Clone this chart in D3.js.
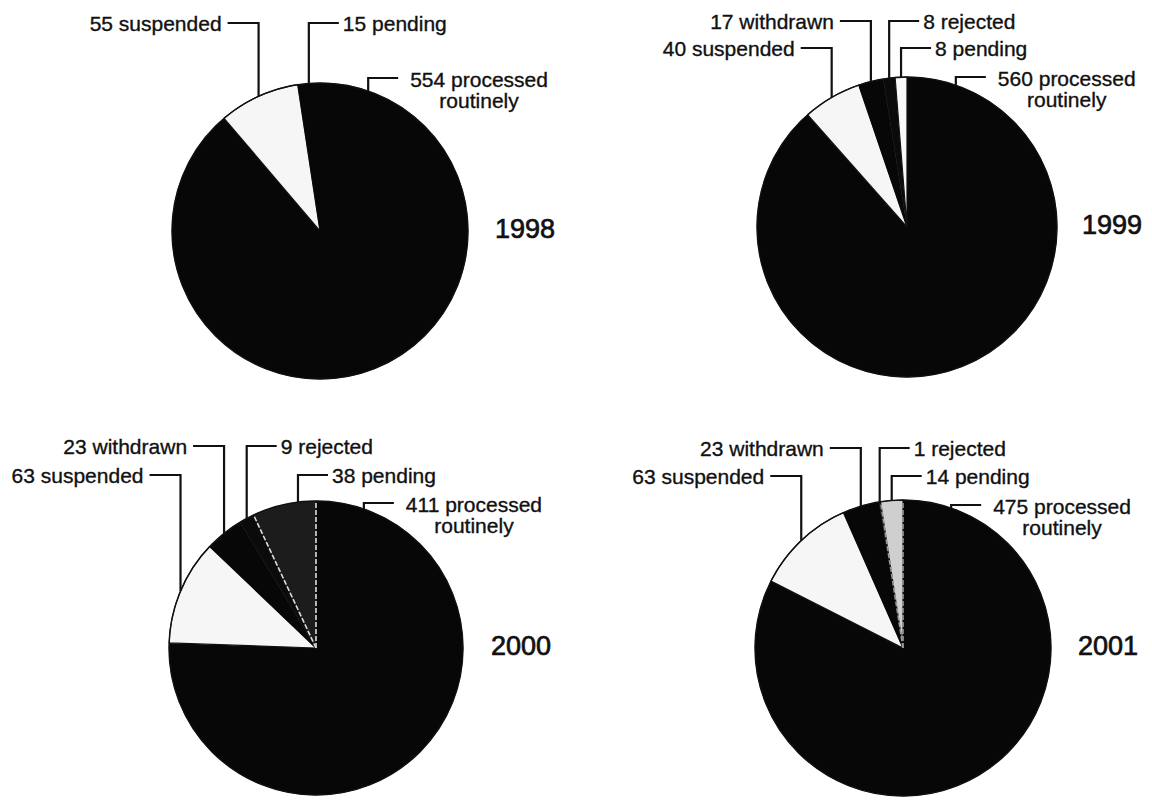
<!DOCTYPE html>
<html>
<head>
<meta charset="utf-8">
<script src="https://cdn.jsdelivr.net/npm/d3@7"></script>
<style>
  html, body { margin: 0; padding: 0; background: #ffffff; }
  svg { display: block; }
  text { font-family: "Liberation Sans", Arial, Helvetica, sans-serif; fill: #111; }
</style>
</head>
<body>
<svg id="chart" width="1152" height="802"></svg>
<script>
// ---- data ----
const years = ["1998", "1999", "2000", "2001"];
const categories = ["processed routinely", "suspended", "withdrawn", "rejected", "pending"];
const processed = [554, 560, 411, 475];
const suspended = [55, 40, 63, 63];
const withdrawn = [0, 17, 23, 23];
const rejected = [0, 8, 9, 1];
const pending = [15, 8, 38, 14];

// ---- layout / style ----
const W = 1152, H = 802;
const pieLayout = [
  { cx: 320, cy: 231, r: 148, rowA: 23,  rowB: 23,  procY: 78  },
  { cx: 907, cy: 227, r: 150, rowA: 21,  rowB: 48,  procY: 77  },
  { cx: 316, cy: 648, r: 147, rowA: 446, rowB: 475, procY: 503 },
  { cx: 903, cy: 648, r: 148, rowA: 448, rowB: 476, procY: 505 }
];
const side = { "suspended": "left", "withdrawn": "left", "rejected": "right", "pending": "right" };
const row = { "suspended": "rowB", "withdrawn": "rowA", "rejected": "rowA", "pending": "rowB" };
const baseFill = {
  "processed routinely": "#070707",
  "suspended": "#f6f6f6",
  "withdrawn": "#070707",
  "rejected": "#0b0b0b",
  "pending": "#070707"
};
const pendingFill = { "1998": "#070707", "1999": "#f8f8f8", "2000": "#1c1c1c", "2001": "#cfcfcf" };
const pendingEdge = { "2000": "#dcdcdc", "2001": "#9a9a9a" };
const anchorFrac = { "2000|pending": 0.72 };
const procAngle = 19 * Math.PI / 180;

const svg = d3.select("#chart");
svg.append("rect").attr("width", W).attr("height", H).attr("fill", "#ffffff");

const seriesByCat = {
  "processed routinely": processed,
  "suspended": suspended,
  "withdrawn": withdrawn,
  "rejected": rejected,
  "pending": pending
};

const pieGen = d3.pie().sort(null).value(d => d.value);

years.forEach((yr, i) => {
  const L = pieLayout[i];
  const data = categories.map(c => ({ cat: c, value: seriesByCat[c][i] }));
  const arcs = pieGen(data);
  const arc = d3.arc().innerRadius(0).outerRadius(L.r);
  const g = svg.append("g").attr("transform", `translate(${L.cx},${L.cy})`);

  const fillOf = d => d.data.cat === "pending" ? pendingFill[yr] : baseFill[d.data.cat];
  const isLight = d => d3.hsl(fillOf(d)).l > 0.6;

  g.selectAll("path.slice")
    .data(arcs.filter(d => d.value > 0))
    .join("path")
    .attr("class", "slice")
    .attr("d", arc)
    .attr("fill", fillOf)
    .attr("stroke", d => isLight(d) ? "#111" : fillOf(d))
    .attr("stroke-width", d => isLight(d) ? 1.2 : 0.5)
    .attr("stroke-linejoin", "round");

  // lighter radial edges on the pending slice where the scan shows them
  if (pendingEdge[yr]) {
    const p = arcs.find(d => d.data.cat === "pending");
    [p.startAngle, p.endAngle].forEach(a => {
      g.append("line")
        .attr("x1", 0).attr("y1", 0)
        .attr("x2", (L.r - 1) * Math.sin(a)).attr("y2", -(L.r - 1) * Math.cos(a))
        .attr("stroke", pendingEdge[yr]).attr("stroke-width", 1.6)
        .attr("stroke-dasharray", "5,2");
    });
  }

  // outline
  g.append("circle").attr("r", L.r).attr("fill", "none")
    .attr("stroke", "#111").attr("stroke-width", 1.4);

  // ---- leaders & labels ----
  const lg = svg.append("g");
  const leader = pts => lg.append("path")
    .attr("d", d3.line()(pts))
    .attr("fill", "none").attr("stroke", "#111").attr("stroke-width", 2.2)
    .attr("stroke-linejoin", "miter");

  arcs.forEach(d => {
    const c = d.data.cat;
    if (c === "processed routinely" || d.value <= 0) return;
    const f = anchorFrac[yr + "|" + c] ?? 0.5;
    const a = d.startAngle + (d.endAngle - d.startAngle) * f;
    const x = L.cx + L.r * Math.sin(a);
    const yEdge = L.cy - L.r * Math.cos(a);
    const y = L[row[c]];
    if (side[c] === "left") {
      leader([[x, yEdge], [x, y], [x - 31, y]]);
      lg.append("text").attr("x", x - 37).attr("y", y + 7.5)
        .attr("text-anchor", "end").attr("font-size", 21)
        .attr("stroke", "#111").attr("stroke-width", 0.35)
        .text(`${d.value} ${c}`);
    } else {
      leader([[x, yEdge], [x, y], [x + 30, y]]);
      lg.append("text").attr("x", x + 34).attr("y", y + 7.5)
        .attr("text-anchor", "start").attr("font-size", 21)
        .attr("stroke", "#111").attr("stroke-width", 0.35)
        .text(`${d.value} ${c}`);
    }
  });

  // processed routinely label (two lines)
  const pd = arcs.find(d => d.data.cat === "processed routinely");
  const px = L.cx + L.r * Math.sin(procAngle);
  const py = L.cy - L.r * Math.cos(procAngle);
  leader([[px, py], [px, L.procY], [px + 30, L.procY]]);
  const words = pd.data.cat.split(" ");
  const t1 = lg.append("text").attr("x", px + 42).attr("y", L.procY + 9)
    .attr("font-size", 21).attr("stroke", "#111").attr("stroke-width", 0.35)
    .text(`${pd.value} ${words[0]}`);
  const w1 = t1.node().getComputedTextLength();
  lg.append("text").attr("x", px + 42 + w1 / 2).attr("y", L.procY + 30)
    .attr("text-anchor", "middle").attr("font-size", 21)
    .attr("stroke", "#111").attr("stroke-width", 0.35)
    .text(words.slice(1).join(" "));

  // year label
  lg.append("text").attr("x", L.cx + 175).attr("y", L.cy + 7)
    .attr("font-size", 27).attr("stroke", "#111").attr("stroke-width", 0.7)
    .text(yr);
});
</script>
</body>
</html>
